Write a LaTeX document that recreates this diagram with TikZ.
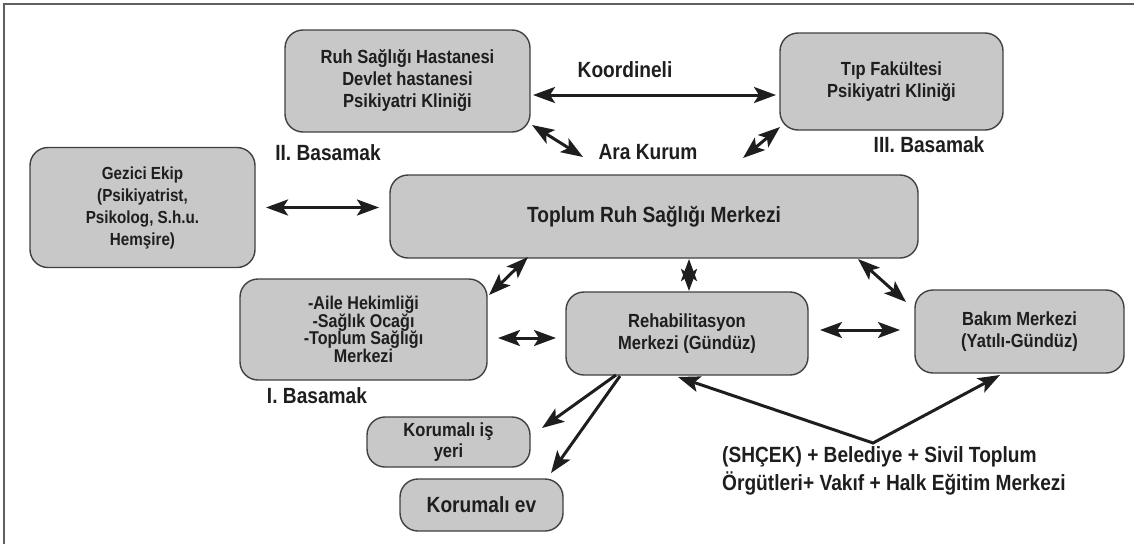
\documentclass[tikz,border=0pt]{standalone}
\usepackage{fontspec}
\setmainfont{Liberation Sans}[FakeStretch=0.87]
\usetikzlibrary{arrows.meta,calc}
\definecolor{boxfill}{HTML}{C8C8C8}
\definecolor{boxline}{HTML}{404040}
\definecolor{txt}{HTML}{1E1E1E}
\definecolor{framec}{HTML}{606060}
\newcommand\tightlines{\lineskiplimit=-30pt\relax\lineskip=0pt\relax}
\begin{document}
\begin{tikzpicture}[x=1pt,y=-1pt,
  box/.style={draw=boxline, fill=boxfill, line width=1.4pt, rounded corners=18pt,
    inner sep=0pt, outer sep=0pt, align=center, text=txt,
    font=\bfseries\fontsize{19}{22}\selectfont},
  lbl/.style={inner sep=0pt, text=txt, font=\bfseries\fontsize{22}{26}\selectfont},
  tipstl/.tip={Stealth[length=22pt 0 0,width=16pt 0 0,inset=5pt 0]},
  dbl/.style={line width=3pt, draw=txt, tipstl-tipstl},
  sgl/.style={line width=3pt, draw=txt, -tipstl}]
\useasboundingbox (0,0) rectangle (1134,544);
% frame
\draw[framec, line width=1.3pt] (4,544) -- (4,4) -- (1134,4);
% boxes
\node[box, minimum width=245pt, minimum height=102pt] (ruh) at (407.5,81)
  {Ruh Sağlığı Hastanesi\\Devlet hastanesi\\Psikiyatri Kliniği};
\node[box, minimum width=223pt, minimum height=97pt] (tip) at (891.5,81.5)
  {Tıp Fakültesi\\Psikiyatri Kliniği};
\node[box, minimum width=225pt, minimum height=120pt,
  font=\bfseries\fontsize{17.5}{22}\selectfont] (gez) at (142.5,207.5)
  {Gezici Ekip\\(Psikiyatrist,\\Psikolog, S.h.u.\\Hemşire)};
\node[box, minimum width=528pt, minimum height=83pt,
  font=\bfseries\fontsize{22}{26}\selectfont] (top) at (654,216.5)
  {Toplum Ruh Sağlığı Merkezi};
\node[box, minimum width=247pt, minimum height=101pt,
  font=\bfseries\fontsize{18.5}{17.5}\selectfont\tightlines] (aile) at (363.5,329.5)
  {-Aile Hekimliği\\-Sağlık Ocağı\\-Toplum Sağlığı\\Merkezi};
\node[box, minimum width=242pt, minimum height=83pt] (reh) at (687,333.5)
  {Rehabilitasyon\\Merkezi (Gündüz)};
\node[box, minimum width=209pt, minimum height=83pt] (bak) at (1019.5,331.5)
  {Bakım Merkezi\\(Yatılı-Gündüz)};
\node[box, minimum width=163pt, minimum height=50pt,
  font=\bfseries\fontsize{19}{21}\selectfont] (kis) at (448.5,442)
  {Korumalı iş\\yeri};
\node[box, minimum width=163pt, minimum height=52pt,
  font=\bfseries\fontsize{22}{26}\selectfont] (kev) at (481.5,505)
  {Korumalı ev};
% labels
\node[lbl] (koord) at (625,70) {Koordineli};
\node[lbl] (ara) at (648,152) {Ara Kurum};
\node[lbl] (b2) at (328,153) {II. Basamak};
\node[lbl] (b3) at (929,145) {III. Basamak};
\node[lbl] (b1) at (317,396) {I. Basamak};
\node[lbl, align=left, anchor=west, font=\bfseries\fontsize{22}{28}\selectfont] (org) at (722,471)
  {(SHÇEK) + Belediye + Sivil Toplum\\Örgütleri+ Vakıf + Halk Eğitim Merkezi};
% free ends
\coordinate (araL) at (583,157);
\coordinate (araR) at (743,158);
\coordinate (apex) at (873,443);
% connectors
\draw[dbl] ($(ruh.east)+(3,14)$) -- ($(tip.west)+(-4,13.5)$);
\draw[dbl] ($(ruh.south east)+(2,-7)$) -- (araL);
\draw[dbl] ($(tip.south west)+(0,-3)$) -- (araR);
\draw[dbl] ($(gez.east)+(11,0)$) -- ($(gez.east -| top.west)+(-11,0)$);
\draw[dbl] ($(aile.north east)+(2,16)$) -- ($(top.south)+(-126,-1)$);
\draw[dbl] ($(top.south -| reh.north)+(2,1)$) -- ($(reh.north)+(2,-1)$);
\draw[dbl] ($(top.south east)+(-60,1)$) -- ($(bak.north west)+(-9,12)$);
\draw[dbl] ($(aile.east)+(11,8.5)$) -- ($(aile.east -| reh.west)+(-10,8.5)$);
\draw[dbl] ($(reh.east)+(12,-3.5)$) -- ($(reh.east -| bak.west)+(-15,-3.5)$);
\draw[sgl] ($(reh.south west)+(50,0)$) -- ($(kis.north east)+(12,11)$);
\draw[sgl] ($(reh.south west)+(54,1)$) -- ($(kev.north east)+(-12,-6)$);
\draw[dbl] ($(reh.south)+(-9,2)$) -- (apex) -- ($(bak.south)+(-19.5,2)$);
\end{tikzpicture}
\end{document}
